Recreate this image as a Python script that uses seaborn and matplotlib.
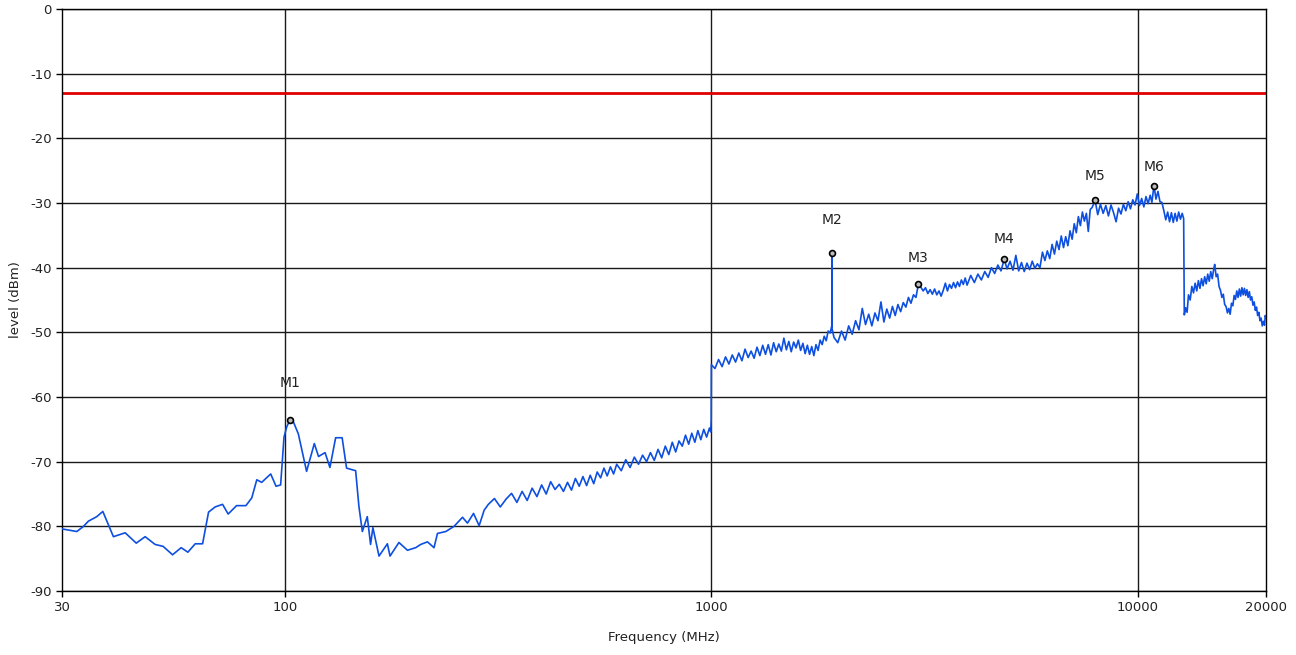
import matplotlib
matplotlib.use("Agg")
import pandas as pd
import seaborn as sns
from matplotlib import pyplot as plt
from matplotlib.ticker import NullLocator

freq_30_300 = [
    30, 32.5, 33.7, 34.6, 36.2, 37.4, 39.6, 42.2, 44.8, 47.0,
    49.6, 51.8, 54.5, 57.1, 59.2, 61.6, 64.1, 66.2, 68.6, 71.4,
    73.6, 77.0, 81.0, 83.6, 85.9, 88.2, 92.6, 95.3, 97.7, 99.5,
    101, 102.8, 104.6, 107.5, 112.4, 117.2, 119.9, 124.2, 127.5,
    131.5, 136.2, 139.5, 146.5, 149.1, 151.9, 156.0, 158.8, 160.8, 166.2,
    173.9, 176.4, 185.1, 193.8, 202.6, 208.2, 215.9, 223.7, 227.9, 238.4,
    249.3, 260.9, 268.0, 276.9, 285.4, 293.3,
]
level_30_300 = [
    -80.4, -80.8, -80.0, -79.2, -78.5, -77.7, -81.6, -81.0, -82.6, -81.6,
    -82.8, -83.1, -84.4, -83.3, -84.0, -82.7, -82.7, -77.8, -77.0, -76.6,
    -78.1, -76.8, -76.8, -75.6, -72.8, -73.2, -71.9, -73.8, -73.6, -66.2,
    -64.6, -63.5, -63.8, -65.7, -71.5, -67.2, -69.2, -68.6, -70.9,
    -66.3, -66.3, -71.0, -71.4, -76.9, -80.8, -78.5, -82.8, -80.2, -84.6,
    -82.7, -84.6, -82.5, -83.7, -83.3, -82.8, -82.4, -83.3, -81.1, -80.8,
    -80.0, -78.6, -79.5, -78.0, -79.9, -77.5,
]

freq_300_1000 = [
    300, 310, 320, 330, 340, 350, 360, 370, 380, 390,
    400, 410, 420, 430, 440, 450, 460, 470, 480, 490,
    500, 510, 520, 530, 540, 550, 560, 570, 580, 590,
    600, 615, 630, 645, 660, 675, 690, 705, 720, 735,
    750, 765, 780, 795, 810, 825, 840, 855, 870, 885,
    900, 915, 930, 945, 960, 975, 990, 997, 999.5,
]
level_300_1000 = [
    -76.6, -75.7, -77.0, -75.8, -74.9, -76.3, -74.6, -76.0, -74.1, -75.4,
    -73.6, -75.0, -73.1, -74.3, -73.5, -74.6, -73.2, -74.4, -72.6, -73.8,
    -72.3, -73.7, -72.1, -73.4, -71.6, -72.5, -71.0, -72.2, -70.8, -71.9,
    -70.4, -71.4, -69.7, -70.9, -69.3, -70.4, -69.0, -70.0, -68.6, -69.8,
    -68.1, -69.4, -67.6, -68.9, -67.0, -68.5, -66.8, -67.6, -65.9, -67.3,
    -65.6, -67.0, -65.2, -66.6, -65.0, -66.2, -64.8, -65.4, -63.5,
]

freq_1000_2000 = [
    1000.5, 1020, 1040, 1060, 1080, 1100, 1120, 1140, 1160, 1180,
    1200, 1220, 1240, 1260, 1280, 1300, 1320, 1340, 1360, 1380,
    1400, 1420, 1440, 1460, 1480, 1500, 1520, 1540, 1560, 1580,
    1600, 1620, 1640, 1660, 1680, 1700, 1720, 1740, 1760, 1780,
    1800, 1820, 1840, 1860, 1880, 1900, 1917, 1918, 1919,
]
level_1000_2000 = [
    -55.0, -55.6, -54.2, -55.3, -53.8, -54.9, -53.5, -54.6, -53.2, -54.4,
    -52.6, -53.9, -52.9, -54.0, -52.3, -53.6, -52.0, -53.4, -51.9, -53.5,
    -51.6, -53.0, -51.8, -52.9, -50.9, -52.7, -51.4, -53.0, -51.5, -52.4,
    -51.2, -52.8, -51.7, -53.3, -52.0, -53.4, -52.2, -53.6, -51.9, -52.8,
    -51.2, -51.9, -50.6, -51.3, -49.8, -50.1, -49.0, -37.7, -49.4,
]

freq_2000_4000 = [
    1940, 1980, 2020, 2060, 2100, 2140, 2180, 2220, 2260, 2300,
    2340, 2380, 2420, 2460, 2500, 2540, 2580, 2620, 2660, 2700,
    2740, 2780, 2820, 2860, 2900, 2940, 2980, 3020, 3061, 3100,
    3140, 3180, 3220, 3260, 3300, 3340, 3380, 3420, 3460, 3500,
    3540, 3580, 3620, 3660, 3700, 3740, 3780, 3820, 3860, 3900,
    3940, 3980,
]
level_2000_4000 = [
    -50.8, -51.6, -49.8, -51.2, -49.0, -50.3, -48.2, -49.6, -46.3, -48.8,
    -47.2, -49.0, -47.0, -48.2, -45.3, -48.4, -46.4, -47.8, -46.0, -47.4,
    -45.7, -46.8, -45.4, -46.1, -44.6, -45.5, -44.2, -44.6, -42.5, -43.0,
    -43.6, -43.1, -44.0, -43.4, -44.1, -43.3, -44.2, -43.6, -44.4, -43.5,
    -42.4, -43.6, -42.6, -43.2, -42.3, -43.1, -42.2, -42.9, -41.9, -42.6,
    -41.6, -42.7,
]

freq_4000_8000 = [
    4060, 4140, 4220, 4300, 4380, 4460, 4540, 4620, 4700, 4780,
    4866, 4940, 5020, 5100, 5180, 5260, 5340, 5420, 5500, 5580,
    5660, 5740, 5820, 5900, 5980, 6060, 6140, 6220, 6300, 6380,
    6460, 6540, 6620, 6700, 6780, 6860, 6940, 7020, 7100, 7180,
    7260, 7340, 7420, 7500, 7580, 7660, 7740, 7820, 7947,
]
level_4000_8000 = [
    -41.2, -42.3, -41.0, -41.9, -40.6, -41.5, -40.0, -40.9, -39.6, -40.5,
    -38.7, -40.2, -39.0, -40.4, -38.1, -40.5, -39.2, -40.6, -39.3, -40.3,
    -39.0, -40.1, -39.4, -40.0, -37.6, -38.9, -37.4, -38.6, -36.4, -37.9,
    -35.9, -37.2, -35.1, -36.9, -35.2, -36.6, -34.3, -35.6, -33.2, -34.6,
    -32.1, -33.5, -31.4, -32.8, -31.6, -34.4, -31.0, -30.7, -29.6,
]

freq_8000_13000 = [
    8060, 8180, 8300, 8420, 8540, 8660, 8780, 8900, 9020, 9140,
    9260, 9380, 9500, 9620, 9740, 9860, 9980, 10100, 10220, 10340,
    10460, 10580, 10700, 10800, 10921, 11040, 11160, 11280, 11400, 11520,
    11640, 11760, 11880, 12000, 12120, 12240, 12360, 12480, 12600, 12720,
    12820, 12865,
]
level_8000_13000 = [
    -31.8, -30.2, -31.6, -30.4, -32.0, -30.3, -31.5, -32.9, -30.8, -31.7,
    -30.2, -31.2, -29.8, -30.9, -29.5, -30.3, -28.6, -30.4, -29.3, -30.6,
    -29.0, -30.1, -28.8, -29.9, -27.3, -29.4, -28.2, -29.8, -29.9, -31.2,
    -32.6, -31.4, -32.9, -31.5, -33.0, -31.6, -32.8, -31.4, -32.5, -31.6,
    -32.4, -47.3,
]

freq_13000_20000 = [
    12960, 13060, 13160, 13280, 13400, 13520, 13640, 13760, 13880, 14000,
    14120, 14240, 14360, 14480, 14600, 14720, 14840, 14960, 15080, 15160,
    15280, 15400, 15520, 15640, 15760, 15880, 16000, 16120, 16240, 16360,
    16480, 16600, 16720, 16840, 16960, 17080, 17200, 17320, 17440, 17560,
    17680, 17800, 17920, 18040, 18160, 18280, 18400, 18520, 18640, 18760,
    18880, 19000, 19120, 19240, 19360, 19480, 19600, 19720, 19840, 19920,
    20000,
]
level_13000_20000 = [
    -46.2, -46.9, -44.2, -45.0, -42.9, -43.9, -42.4, -43.6, -42.0, -43.2,
    -41.7, -42.8, -41.4, -42.5, -41.0, -42.1, -40.6, -41.7, -40.2, -39.5,
    -41.4, -41.0, -42.9, -43.5, -44.6, -44.1, -45.7, -46.0, -47.0, -46.3,
    -47.2, -45.5, -45.9, -44.3, -44.9, -43.6, -44.6, -43.3, -44.4, -43.1,
    -44.2, -43.2, -44.3, -43.4, -44.6, -43.7, -45.0, -44.5, -45.8, -45.3,
    -46.6, -46.1, -47.4, -46.9, -48.2, -47.8, -49.0, -48.3, -48.9, -47.4,
    -47.8,
]

limit_dbm = -13

marker_names = ["M1", "M2", "M3", "M4", "M5", "M6"]
marker_freq = [102.8, 1918, 3061, 4866, 7947, 10921]
marker_level = [-63.5, -37.7, -42.5, -38.7, -29.6, -27.3]
label_offset_px = [37, 33, 26, 20, 24, 19]

x_ticks = [30, 100, 1000, 10000, 20000]
y_ticks = [-90, -80, -70, -60, -50, -40, -30, -20, -10, 0]

sns.set_style("white")
plt.rcParams["font.family"] = ["DejaVu Sans"]

df = pd.DataFrame({
    "freq": freq_30_300 + freq_300_1000 + freq_1000_2000 + freq_2000_4000
    + freq_4000_8000 + freq_8000_13000 + freq_13000_20000,
    "level": level_30_300 + level_300_1000 + level_1000_2000 + level_2000_4000
    + level_4000_8000 + level_8000_13000 + level_13000_20000,
})

fig = plt.figure(figsize=(12.96, 6.55), dpi=100)
ax = fig.add_axes([62 / 1296, 64 / 655, 1204 / 1296, 582 / 655])

ax.set_xscale("log")
for y in y_ticks:
    ax.axhline(y, color="#1a1a1a", lw=1, zorder=1)
for x in [100, 1000, 10000]:
    ax.axvline(x, color="#1a1a1a", lw=1, zorder=1)

ax.axhline(limit_dbm, color="#e00000", lw=2, zorder=2)

sns.lineplot(data=df, x="freq", y="level", sort=False, estimator=None,
             color="#0d4fe0", lw=1.2, ax=ax, zorder=3)

# marker points with labels
ax.scatter(marker_freq, marker_level, s=18, facecolor="#bbbbbb",
           edgecolor="black", linewidth=1.2, zorder=4)
for name, fx, ly, off in zip(marker_names, marker_freq, marker_level, label_offset_px):
    ax.annotate(name, (fx, ly), xytext=(0, off * 0.72), textcoords="offset points",
                ha="center", va="center", fontsize=10, color="#222222")

ax.set_xlim(30, 20000)
ax.set_ylim(-90, 0)
ax.set_xticks(x_ticks)
ax.set_xticklabels([str(t) for t in x_ticks])
ax.xaxis.set_minor_locator(NullLocator())
ax.set_yticks(y_ticks)
ax.set_yticklabels([str(t) for t in y_ticks])
ax.tick_params(axis="both", direction="out", length=4, width=1, color="black",
               labelsize=9.5, labelcolor="#222222", left=True, bottom=True)

for side in ["left", "bottom", "top", "right"]:
    ax.spines[side].set_color("black")
    ax.spines[side].set_linewidth(1)

ax.set_xlabel("Frequency (MHz)", fontsize=9.5, color="#222222", labelpad=12)
ax.set_ylabel("level (dBm)", fontsize=9.5, color="#222222", labelpad=6)

fig.savefig("out.png", dpi=100)
